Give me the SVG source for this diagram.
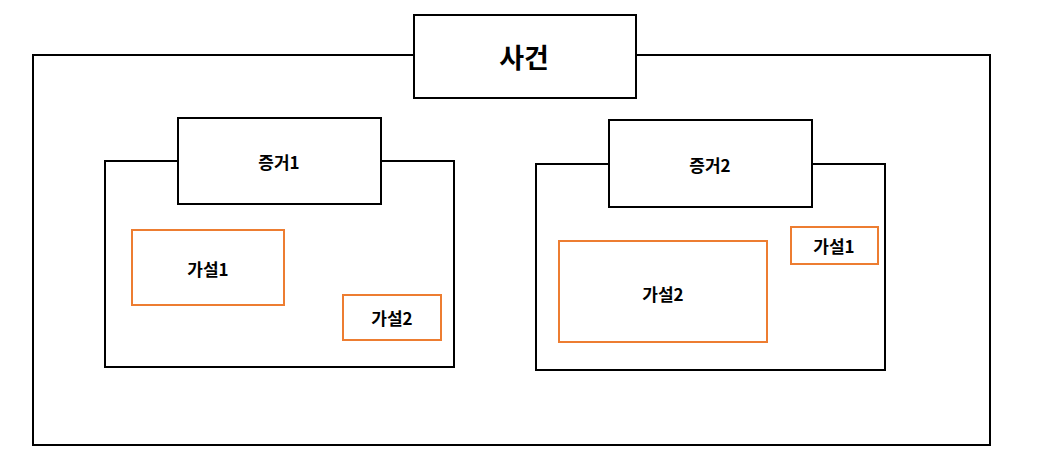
<svg xmlns="http://www.w3.org/2000/svg" width="1045" height="466" viewBox="0 0 1045 466">
<style>
.box{fill:#fff;stroke:#000;stroke-width:2}
.hyp{fill:#fff;stroke:#ED7D31;stroke-width:2}
text{font-family:"Noto Sans CJK KR","Noto Sans",sans-serif;font-weight:bold;fill:#000;text-anchor:middle;dominant-baseline:central}
.t16{font-size:17px}
.t24{font-size:27px}
</style>
<rect width="1045" height="466" fill="#fff"/>
<g id="case">
<rect class="box" x="33" y="55" width="957" height="390"/>
</g>
<g id="case-title">
<rect class="box" x="414" y="15" width="222" height="83"/>
<text class="t24" x="524" y="56">사건</text>
</g>
<g id="evidence1">
<rect class="box" x="105" y="161" width="349" height="206"/>
</g>
<g id="evidence1-title">
<rect class="box" x="178" y="118" width="203" height="86"/>
<text class="t16" x="279" y="161">증거1</text>
</g>
<g id="e1-hyp1">
<rect class="hyp" x="132" y="230" width="152" height="75"/>
<text class="t16" x="208" y="268">가설1</text>
</g>
<g id="e1-hyp2">
<rect class="hyp" x="343" y="295" width="98" height="45"/>
<text class="t16" x="392" y="317">가설2</text>
</g>
<g id="evidence2">
<rect class="box" x="536" y="164" width="349" height="206"/>
</g>
<g id="evidence2-title">
<rect class="box" x="609" y="120" width="203" height="87"/>
<text class="t16" x="710" y="164">증거2</text>
</g>
<g id="e2-hyp2">
<rect class="hyp" x="559" y="241" width="208" height="101"/>
<text class="t16" x="663" y="293">가설2</text>
</g>
<g id="e2-hyp1">
<rect class="hyp" x="791" y="227" width="87" height="37"/>
<text class="t16" x="834" y="245">가설1</text>
</g>
<g id="connectors"></g>
</svg>
